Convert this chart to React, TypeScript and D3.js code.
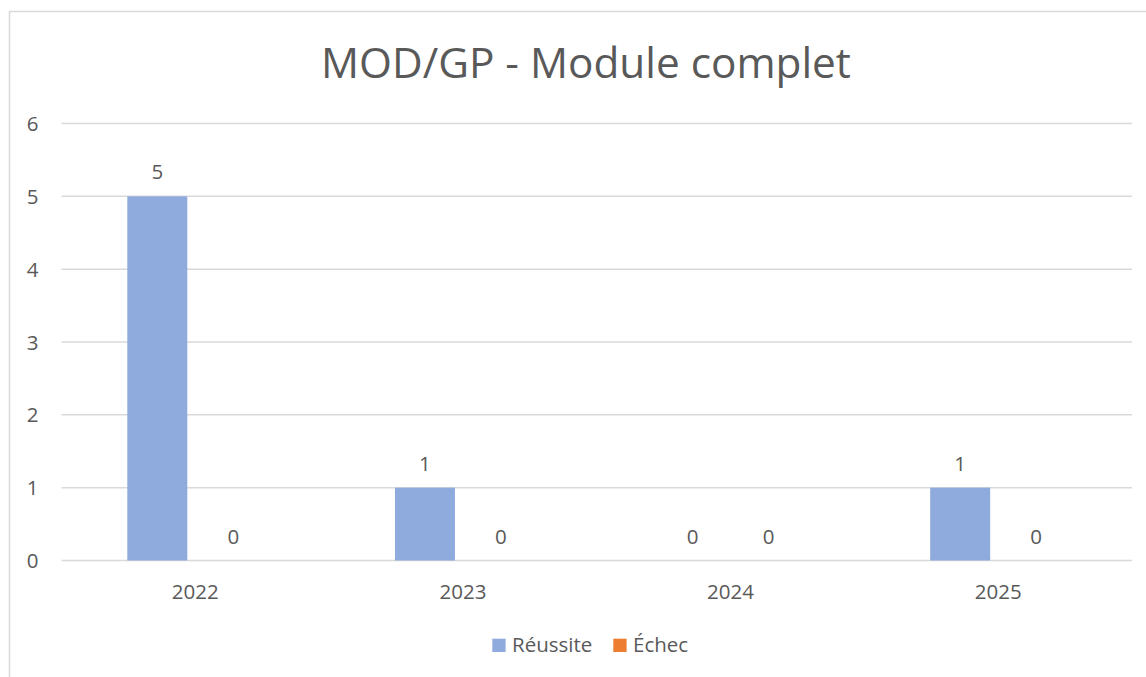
import React from "react";
import * as d3 from "d3";

const categories = ["2022", "2023", "2024", "2025"];
const seriesNames = ["Réussite", "Échec"];
const reussite = [5, 1, 0, 1];
const echec = [0, 0, 0, 0];
const yTicks = [0, 1, 2, 3, 4, 5, 6];
const colors = ["#8FAADC", "#ED7D31"];
const title = "MOD/GP - Module complet";

const W = 1146;
const H = 677;
const FONT = "'Open Sans', 'Noto Sans', sans-serif";
const TEXT = "#595959";
const GRID = "#d9d9d9";

export default function App() {
  const plotLeft = 61.5;
  const plotRight = 1132;
  const plotTop = 123.5;
  const plotBottom = 560.5;

  const x0 = d3.scaleBand<string>().domain(categories).range([plotLeft, plotRight]).padding(0);
  const bw = x0.bandwidth();
  const groupW = 136;
  const x1 = d3
    .scaleBand<string>()
    .domain(seriesNames)
    .range([(bw - groupW) / 2, (bw + groupW) / 2])
    .paddingInner(16 / 76)
    .paddingOuter(0);
  const y = d3.scaleLinear().domain([0, 6]).range([plotBottom, plotTop]);

  const values = [reussite, echec];

  return (
    <svg
      width={W}
      height={H}
      style={{ position: "absolute", left: 0, top: 0, background: "#fff" }}
      fontFamily={FONT}
    >
      <rect x={0} y={0} width={W} height={H} fill="#fff" />
      <rect x={9.5} y={11.5} width={1300} height={900} fill="none" stroke={GRID} strokeWidth={1.5} />
      <text x={586} y={77.7} textAnchor="middle" fontSize={42.3} fill={TEXT}>
        {title}
      </text>
      {yTicks.map((t) => (
        <g key={t}>
          <line x1={plotLeft} x2={plotRight} y1={y(t)} y2={y(t)} stroke={GRID} strokeWidth={1.5} />
          <text x={38.5} y={y(t) + 7.5} textAnchor="end" fontSize={20.5} fill={TEXT}>
            {t}
          </text>
        </g>
      ))}
      {categories.map((c, ci) => (
        <g key={c} transform={`translate(${x0(c)},0)`}>
          {seriesNames.map((s, si) => {
            const v = values[si][ci];
            const bx = x1(s)!;
            return (
              <g key={s}>
                {v > 0 && (
                  <rect x={bx} y={y(v)} width={x1.bandwidth()} height={y(0) - y(v)} fill={colors[si]} />
                )}
                <text
                  x={bx + x1.bandwidth() / 2}
                  y={y(v) - 17}
                  textAnchor="middle"
                  fontSize={20.5}
                  fill={TEXT}
                >
                  {v}
                </text>
              </g>
            );
          })}
          <text x={bw / 2} y={599.3} textAnchor="middle" fontSize={20.5} fill={TEXT}>
            {c}
          </text>
        </g>
      ))}
      <g>
        <rect x={492.3} y={638.7} width={13.3} height={13.3} fill={colors[0]} />
        <text x={512} y={652} fontSize={20.5} fill={TEXT}>
          {seriesNames[0]}
        </text>
        <rect x={613.3} y={638.7} width={13.3} height={13.3} fill={colors[1]} />
        <text x={633} y={652} fontSize={20.5} fill={TEXT}>
          {seriesNames[1]}
        </text>
      </g>
    </svg>
  );
}
